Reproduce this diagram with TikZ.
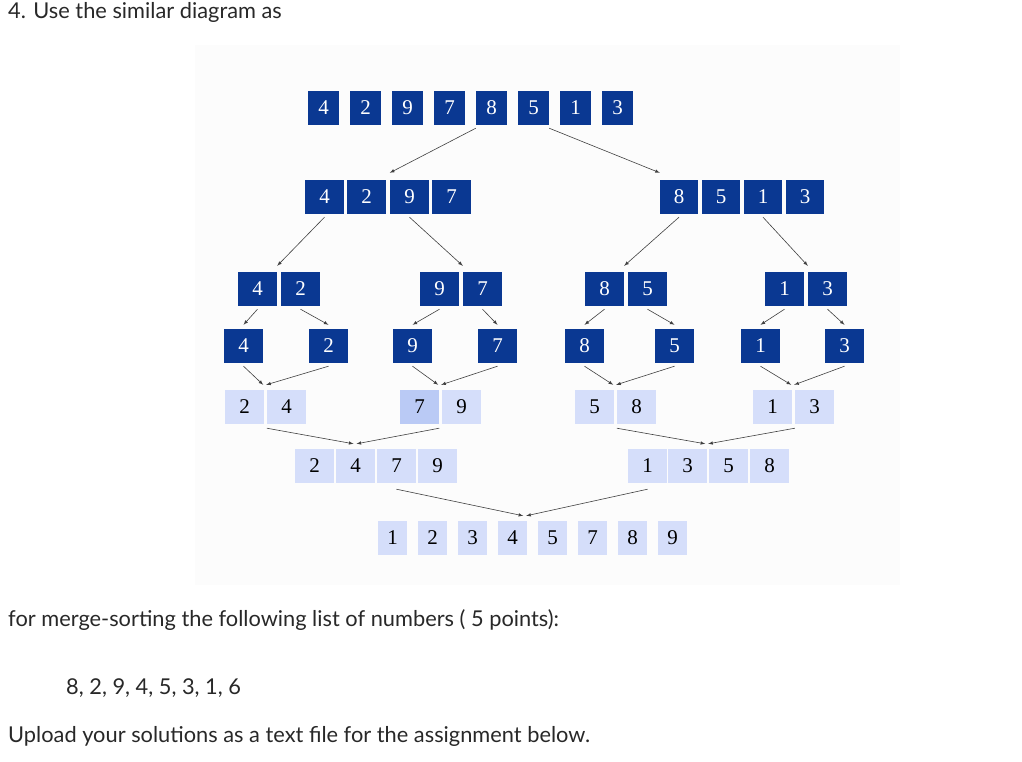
\documentclass[tikz,border=0pt]{standalone}
\usepackage{fontspec}
\setmainfont{Lato}
\newfontfamily\serifd{Liberation Serif}
\definecolor{dk}{RGB}{10,56,146}
\definecolor{lt}{RGB}{213,222,250}
\definecolor{lt2}{RGB}{186,202,245}
\definecolor{tx}{RGB}{40,40,40}
\tikzset{
 c/.style={inner sep=0pt,minimum height=34pt,font=\serifd\fontsize{21}{21}\selectfont},
 d/.style={c,fill=dk,text=white},
 l/.style={c,fill=lt,text=black},
 l2/.style={c,fill=lt2,text=black},
 ar/.style={draw=black!75,line width=0.6pt,-latex},
 lab/.style={anchor=west,inner sep=0pt,text=tx,font=\fontsize{21.8}{24}\selectfont}
}
\newcommand\cell[6]{\node[#6,minimum width={#3-#2},anchor=center] (#1) at ({(#2+#3)/2},{#4}) {#5};}
\begin{document}
\begin{tikzpicture}[x=1pt,y=-1pt]
\useasboundingbox (0,0) rectangle (1022,761);
\fill[black!1.2] (195,45) rectangle (900,585);
\node[lab] (h) at (8,12) {4. Use the similar diagram as};
\node[lab] (f) at (8,620) {for merge-sorting the following list of numbers ( 5 points):};
\node[lab] (n) at (66,688) {8, 2, 9, 4, 5, 3, 1, 6};
\node[lab] (u) at (8,736) {Upload your solutions as a text file for the assignment below.};
% row 1
\cell{a1}{308}{339}{108}{4}{d}\cell{a2}{350}{381}{108}{2}{d}\cell{a3}{392}{423}{108}{9}{d}\cell{a4}{434}{465}{108}{7}{d}
\cell{a5}{476}{507}{108}{8}{d}\cell{a6}{518}{549}{108}{5}{d}\cell{a7}{560}{591}{108}{1}{d}\cell{a8}{602}{633}{108}{3}{d}
% row 2
\cell{b1}{305}{344}{197}{4}{d}\cell{b2}{347}{386}{197}{2}{d}\cell{b3}{390}{429}{197}{9}{d}\cell{b4}{432}{471}{197}{7}{d}
\cell{b5}{660}{698}{197}{8}{d}\cell{b6}{702}{740}{197}{5}{d}\cell{b7}{744}{782}{197}{1}{d}\cell{b8}{786}{824}{197}{3}{d}
% row 3
\cell{c1}{238}{277}{289}{4}{d}\cell{c2}{281}{320}{289}{2}{d}\cell{c3}{420}{459}{289}{9}{d}\cell{c4}{463}{502}{289}{7}{d}
\cell{c5}{585}{624}{289}{8}{d}\cell{c6}{628}{667}{289}{5}{d}\cell{c7}{765}{804}{289}{1}{d}\cell{c8}{808}{847}{289}{3}{d}
% row 4
\cell{e1}{224}{263}{346}{4}{d}\cell{e2}{309}{348}{346}{2}{d}\cell{e3}{393}{432}{346}{9}{d}\cell{e4}{478}{517}{346}{7}{d}
\cell{e5}{565}{604}{346}{8}{d}\cell{e6}{655}{694}{346}{5}{d}\cell{e7}{741}{780}{346}{1}{d}\cell{e8}{825}{864}{346}{3}{d}
% row 5
\cell{f1}{225}{264}{407}{2}{l}\cell{f2}{267}{306}{407}{4}{l}\cell{f3}{400}{439}{407}{7}{l2}\cell{f4}{442}{481}{407}{9}{l}
\cell{f5}{575}{614}{407}{5}{l}\cell{f6}{617}{656}{407}{8}{l}\cell{f7}{753}{792}{407}{1}{l}\cell{f8}{795}{834}{407}{3}{l}
% row 6
\cell{g1}{295}{334}{466}{2}{l}\cell{g2}{336}{375}{466}{4}{l}\cell{g3}{377}{416}{466}{7}{l}\cell{g4}{418}{457}{466}{9}{l}
\cell{g5}{628}{667}{466}{1}{l}\cell{g6}{668}{707}{466}{3}{l}\cell{g7}{709}{748}{466}{5}{l}\cell{g8}{750}{789}{466}{8}{l}
% row 7
\cell{h1}{378}{407}{538}{1}{l}\cell{h2}{418}{447}{538}{2}{l}\cell{h3}{458}{487}{538}{3}{l}\cell{h4}{498}{527}{538}{4}{l}
\cell{h5}{538}{567}{538}{5}{l}\cell{h6}{578}{607}{538}{7}{l}\cell{h7}{618}{647}{538}{8}{l}\cell{h8}{658}{687}{538}{9}{l}
% arrows
\draw[ar] ([yshift=-3pt]a5.south west) -- ([yshift=7pt]b3.north west);
\draw[ar] ([yshift=-3pt]a6.south east) -- ([yshift=7pt]b5.north west);
\draw[ar] ([yshift=-3pt]b1.south) -- ([yshift=6pt]c1.north east);
\draw[ar] ([yshift=-3pt]b3.south) -- ([yshift=6pt]c4.north west);
\draw[ar] ([yshift=-3pt]b5.south) -- ([yshift=6pt]c5.north east);
\draw[ar] ([yshift=-3pt]b7.south) -- ([yshift=6pt]c8.north west);
\draw[ar] ([yshift=-3pt]c1.south) -- ([yshift=4pt]e1.north);
\draw[ar] ([yshift=-3pt]c2.south) -- ([yshift=4pt]e2.north);
\draw[ar] ([yshift=-3pt]c3.south) -- ([yshift=4pt]e3.north);
\draw[ar] ([yshift=-3pt]c4.south) -- ([yshift=4pt]e4.north);
\draw[ar] ([yshift=-3pt]c5.south) -- ([yshift=4pt]e5.north);
\draw[ar] ([yshift=-3pt]c6.south) -- ([yshift=4pt]e6.north);
\draw[ar] ([yshift=-3pt]c7.south) -- ([yshift=4pt]e7.north);
\draw[ar] ([yshift=-3pt]c8.south) -- ([yshift=4pt]e8.north);
\draw[ar] ([yshift=-3pt]e1.south) -- ([xshift=-1pt,yshift=5pt]f1.north east);
\draw[ar] ([yshift=-3pt]e2.south) -- ([xshift=2pt,yshift=5pt]f1.north east);
\draw[ar] ([yshift=-3pt]e3.south) -- ([xshift=-1pt,yshift=5pt]f3.north east);
\draw[ar] ([yshift=-3pt]e4.south) -- ([xshift=2pt,yshift=5pt]f3.north east);
\draw[ar] ([yshift=-3pt]e5.south) -- ([xshift=-1pt,yshift=5pt]f5.north east);
\draw[ar] ([yshift=-3pt]e6.south) -- ([xshift=2pt,yshift=5pt]f5.north east);
\draw[ar] ([yshift=-3pt]e7.south) -- ([xshift=-1pt,yshift=5pt]f7.north east);
\draw[ar] ([yshift=-3pt]e8.south) -- ([xshift=2pt,yshift=5pt]f7.north east);
\draw[ar] ([yshift=-4pt]f2.south west) -- ([xshift=-2pt,yshift=5pt]g2.north);
\draw[ar] ([yshift=-4pt]f3.south east) -- ([xshift=1pt,yshift=5pt]g2.north);
\draw[ar] ([yshift=-4pt]f6.south west) -- ([xshift=-2pt,yshift=5pt]g6.north east);
\draw[ar] ([yshift=-4pt]f8.south west) -- ([xshift=1pt,yshift=5pt]g6.north east);
\draw[ar] ([yshift=-6pt]g3.south) -- ([xshift=-4pt,yshift=5pt]h4.north east);
\draw[ar] ([yshift=-6pt]g5.south) -- ([xshift=-1pt,yshift=5pt]h4.north east);
\end{tikzpicture}
\end{document}
